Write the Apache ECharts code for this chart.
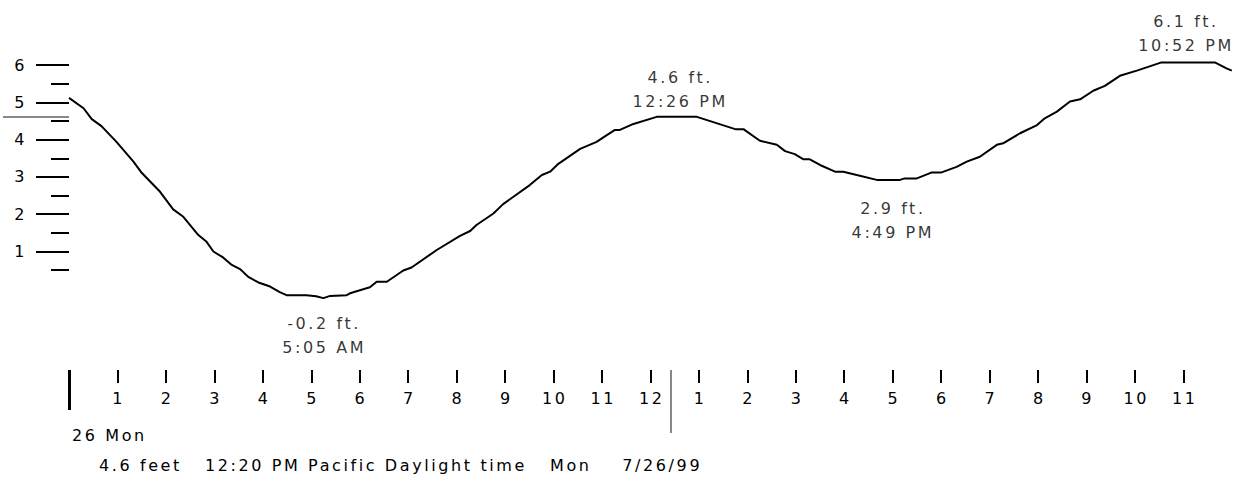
<!DOCTYPE html>
<html>
<head>
<meta charset="utf-8">
<script src="https://cdn.jsdelivr.net/npm/echarts@6/dist/echarts.min.js"></script>
<style>
	html, body { margin: 0; padding: 0; background: #fff; }
	#chart { width: 1244px; height: 478px; }
	/* the original lettering is set very loose */
	#chart text { letter-spacing: 2.6px; }
</style>
</head>
<body>
<div id="chart"></div>
<script>
// tide curve, hours after midnight / feet
var tideHours = [0, 0.3, 0.47, 0.67, 0.98, 1.33, 1.5, 1.88, 2.15, 2.36, 2.67, 2.84, 2.98, 3.18, 3.36, 3.53, 3.7, 3.91, 4.15, 4.35, 4.49, 4.9, 5.1, 5.25, 5.39, 5.73, 5.8, 6.21, 6.35, 6.56, 6.9, 7.07, 7.59, 8.07, 8.28, 8.41, 8.76, 8.96, 9.51, 9.76, 9.93, 10.1, 10.55, 10.89, 11.1, 11.27, 11.37, 11.65, 12.13, 12.96, 13.75, 13.92, 14.26, 14.61, 14.78, 14.98, 15.16, 15.29, 15.5, 15.81, 15.98, 16.26, 16.67, 17.15, 17.25, 17.5, 17.81, 18.01, 18.32, 18.53, 18.8, 19.15, 19.28, 19.63, 19.98, 20.14, 20.39, 20.66, 20.87, 21.14, 21.38, 21.69, 22.04, 22.55, 23.65, 23.89, 24];
var tideFeet = [5.12, 4.84, 4.55, 4.36, 3.94, 3.41, 3.11, 2.6, 2.13, 1.93, 1.44, 1.26, 1.0, 0.84, 0.64, 0.53, 0.32, 0.17, 0.06, -0.09, -0.17, -0.17, -0.2, -0.25, -0.19, -0.17, -0.12, 0.04, 0.19, 0.19, 0.49, 0.57, 1.04, 1.42, 1.55, 1.71, 2.02, 2.27, 2.78, 3.05, 3.14, 3.35, 3.75, 3.94, 4.12, 4.26, 4.26, 4.42, 4.61, 4.61, 4.28, 4.28, 3.97, 3.86, 3.69, 3.61, 3.47, 3.47, 3.32, 3.14, 3.14, 3.05, 2.92, 2.92, 2.96, 2.96, 3.12, 3.12, 3.27, 3.41, 3.54, 3.86, 3.9, 4.17, 4.39, 4.57, 4.75, 5.02, 5.08, 5.31, 5.44, 5.71, 5.85, 6.07, 6.07, 5.91, 5.85];

// highs and lows
var extremeHours = [5.08, 12.43, 16.82, 22.87];
var extremeFeet = [-0.2, 4.6, 2.9, 6.1];
var extremeTimes = ["5:05 AM", "12:26 PM", "4:49 PM", "10:52 PM"];
var extremeIsHigh = [false, true, false, true];

// axes
var hourTicks = [1, 2, 3, 4, 5, 6, 7, 8, 9, 10, 11, 12, 13, 14, 15, 16, 17, 18, 19, 20, 21, 22, 23];
var dayTicks = [0];
var dayLabels = ["26 Mon"];
var footTicks = [1, 2, 3, 4, 5, 6];
var halfFootTicks = [0.5, 1.5, 2.5, 3.5, 4.5, 5.5];

// current reading
var nowHour = 12.42;
var nowFeet = 4.6;
var statusText = "4.6 feet   12:20 PM Pacific Daylight time   Mon    7/26/99";

var FONT = "DejaVu Sans";
var chart = echarts.init(document.getElementById("chart"), null, { renderer: "svg" });

// time scale lives in its own strip below the curve
var baseX = {
	type: "value",
	gridIndex: 1,
	min: 0,
	max: 24,
	position: "bottom",
	axisLine: { show: false },
	splitLine: { show: false },
};
var baseY = {
	type: "value",
	min: -0.5,
	max: 6.5,
	position: "left",
	axisLine: { show: false },
	splitLine: { show: false },
};

chart.setOption({
	animation: false,
	title: {
		text: statusText,
		left: 94,
		top: 452,
		textStyle: { fontFamily: FONT, fontSize: 16, fontWeight: "normal", color: "#000" },
	},
	grid: [
		{ left: 69, right: 12.2, top: 46.35, height: 261.1 },
		{ left: 69, right: 12.2, top: 340, height: 30 },
	],
	xAxis: [
		{
			type: "value",
			gridIndex: 0,
			min: 0,
			max: 24,
			show: false,
		},
		Object.assign({}, baseX, {
			axisTick: {
				customValues: hourTicks,
				length: 13,
				lineStyle: { color: "#000", width: 2 },
			},
			axisLabel: {
				customValues: hourTicks,
				margin: 20,
				padding: [0, 0, 0, 2.6],
				fontFamily: FONT,
				fontSize: 16,
				color: "#000",
				formatter: function (v) {
					return String(v % 12 || 12);
				},
			},
		}),
		Object.assign({}, baseX, {
			axisTick: {
				customValues: dayTicks,
				length: 40,
				lineStyle: { color: "#000", width: 3 },
			},
			axisLabel: {
				customValues: dayTicks,
				margin: 57,
				align: "left",
				padding: [0, 0, 0, 3],
				fontFamily: FONT,
				fontSize: 16,
				color: "#000",
				formatter: function (v, i) {
					return dayLabels[i] || dayLabels[0];
				},
			},
		}),
		Object.assign({}, baseX, {
			axisTick: {
				customValues: [nowHour],
				length: 63,
				lineStyle: { color: "#888", width: 2 },
			},
			axisLabel: { show: false },
		}),
	],
	yAxis: [
		Object.assign({}, baseY, {
			axisTick: {
				customValues: footTicks,
				length: 33,
				lineStyle: { color: "#000", width: 2 },
			},
			axisLabel: {
				customValues: footTicks,
				margin: 42,
				padding: [4, 0, 0, 0],
				fontFamily: FONT,
				fontSize: 16,
				color: "#000",
			},
		}),
		Object.assign({}, baseY, {
			axisTick: {
				customValues: halfFootTicks,
				length: 18,
				lineStyle: { color: "#000", width: 2 },
			},
			axisLabel: { show: false },
		}),
		Object.assign({}, baseY, {
			axisTick: {
				customValues: [nowFeet],
				length: 66,
				lineStyle: { color: "#888", width: 2 },
			},
			axisLabel: { show: false },
		}),
		{ type: "value", gridIndex: 1, min: 0, max: 1, show: false },
	],
	series: [
		{
			type: "line",
			xAxisIndex: 0,
			yAxisIndex: 0,
			data: tideHours.map(function (h, i) {
				return [h, tideFeet[i]];
			}),
			showSymbol: false,
			lineStyle: { color: "#000", width: 2 },
		},
		{
			type: "scatter",
			xAxisIndex: 0,
			yAxisIndex: 0,
			symbolSize: 0,
			data: extremeHours.map(function (h, i) {
				return {
					value: [h, extremeFeet[i]],
					label: {
						position: extremeIsHigh[i] ? "top" : "bottom",
						distance: extremeIsHigh[i] ? 4 : 15.5,
					},
				};
			}),
			label: {
				show: true,
				offset: [9, 0],
				fontFamily: FONT,
				fontSize: 16,
				lineHeight: 24,
				align: "center",
				color: "#000",
				formatter: function (p) {
					var i = p.dataIndex;
					return extremeFeet[i].toFixed(1) + " ft.\n" + extremeTimes[i];
				},
			},
		},
	],
});
</script>
</body>
</html>
